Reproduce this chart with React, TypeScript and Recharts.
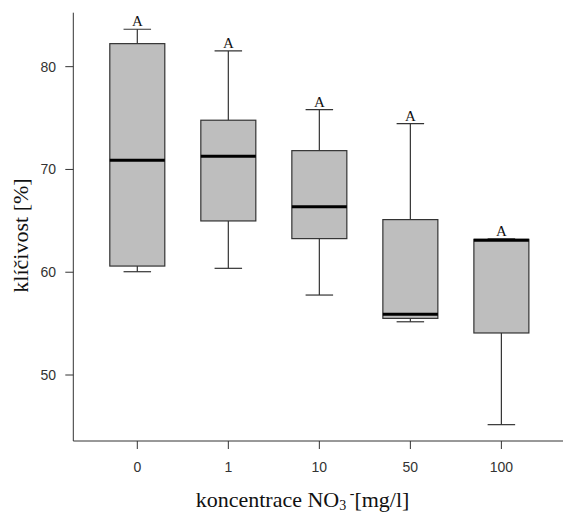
import { ComposedChart, Bar, XAxis, YAxis } from "recharts";

const categories = ["0", "1", "10", "50", "100"];
const mins = [60.05, 60.38, 57.78, 55.18, 45.17];
const q1s = [60.6, 64.99, 63.27, 55.51, 54.09];
const medians = [70.89, 71.28, 66.38, 55.9, 63.11];
const q3s = [82.24, 74.79, 71.83, 65.12, 63.2];
const maxs = [83.64, 81.53, 75.82, 74.46, 63.24];
const letters = ["A", "A", "A", "A", "A"];
const yTicks = [50, 60, 70, 80];

const data = categories.map((cat, i) => ({
  cat,
  min: mins[i],
  q1: q1s[i],
  median: medians[i],
  q3: q3s[i],
  max: maxs[i],
  letter: letters[i],
}));

const LINE = "#333";
const SANS = "'Liberation Sans', Arial, sans-serif";
const SERIF = "'Liberation Serif', 'Times New Roman', serif";

// range bar spans min..max, the rest is placed on the same linear scale
const BoxShape = (props: any) => {
  const { x, y, width, height, payload } = props;
  const top = Math.min(y, y + height);
  const bottom = Math.max(y, y + height);
  const span = payload.max - payload.min;
  const toY = (v: number) => bottom - ((v - payload.min) / span) * (bottom - top);
  const cx = x + width / 2;
  const cap = width / 4;
  const yMax = toY(payload.max);
  const yQ3 = toY(payload.q3);
  const yMed = toY(payload.median);
  const yQ1 = toY(payload.q1);
  const yMin = toY(payload.min);
  return (
    <g>
      <line x1={cx} x2={cx} y1={yMax} y2={yQ3} stroke={LINE} strokeWidth={1.2} />
      <line x1={cx} x2={cx} y1={yQ1} y2={yMin} stroke={LINE} strokeWidth={1.2} />
      <line x1={cx - cap} x2={cx + cap} y1={yMax} y2={yMax} stroke={LINE} strokeWidth={1.2} />
      <line x1={cx - cap} x2={cx + cap} y1={yMin} y2={yMin} stroke={LINE} strokeWidth={1.2} />
      <rect x={x} y={yQ3} width={width} height={yQ1 - yQ3} fill="#bebebe" stroke={LINE} strokeWidth={1.2} />
      <line x1={x} x2={x + width} y1={yMed} y2={yMed} stroke="#000" strokeWidth={3} />
      <text x={cx} y={yMax - 3} textAnchor="middle" fontFamily={SERIF} fontSize={15} fill="#111">
        {payload.letter}
      </text>
    </g>
  );
};

export default function App() {
  return (
    <div style={{ position: "absolute", left: 0, top: 0, width: 563, height: 512, overflow: "hidden", background: "#fff" }}>
      <ComposedChart
        width={580}
        height={512}
        data={data}
        margin={{ top: 12.7, right: 14.6, bottom: 0, left: 13.3 }}
      >
        <XAxis
          dataKey="cat"
          padding={{ left: 18.5, right: 18.5 }}
          height={71}
          tickSize={8}
          tickMargin={13}
          stroke={LINE}
          tick={{ fontSize: 14, fill: "#333", fontFamily: SANS }}
          label={{
            content: () => (
              <text x={195.7} y={506.5} fontFamily={SERIF} fontSize={22} fill="#111">
                koncentrace NO
                <tspan fontSize={14} dy={3}>3</tspan>
                <tspan fontSize={14} dy={-12}> -</tspan>
                <tspan fontSize={22} dy={9}>[mg/l]</tspan>
              </text>
            ),
          }}
        />
        <XAxis
          xAxisId="top"
          dataKey="cat"
          orientation="top"
          height={0}
          tick={false}
          tickLine={false}
          stroke="#555"
        />
        <YAxis
          type="number"
          domain={[43.58, 85.25]}
          allowDataOverflow
          ticks={yTicks}
          width={60}
          tickSize={8}
          tickMargin={9.3}
          stroke={LINE}
          tick={{ fontSize: 14, fill: "#333", fontFamily: SANS }}
          label={{
            content: () => (
              <text
                x={27.5}
                y={235.5}
                transform="rotate(-90 27.5 235.5)"
                textAnchor="middle"
                fontFamily={SERIF}
                fontSize={22}
                fill="#111"
              >
                klíčivost [%]
              </text>
            ),
          }}
        />
        <Bar
          dataKey={(d: any) => [d.min, d.max]}
          barSize={55}
          shape={BoxShape}
          isAnimationActive={false}
        />
      </ComposedChart>
    </div>
  );
}
